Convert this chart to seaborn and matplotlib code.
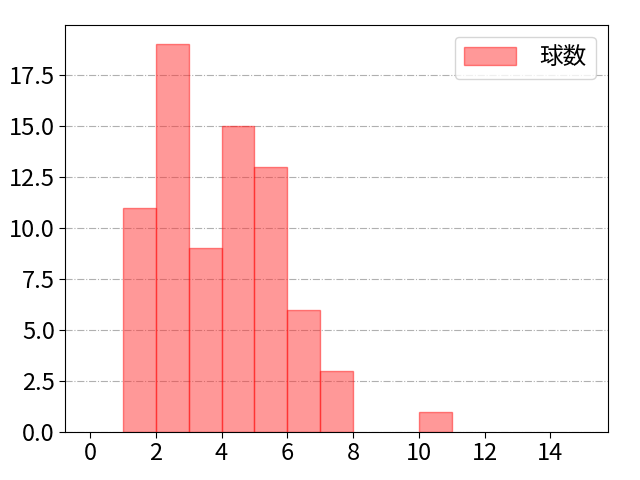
import matplotlib
matplotlib.use("Agg")
import matplotlib.pyplot as plt
import seaborn as sns
import pandas as pd

# pitch-count bins (left edges) and how many at-bats fell in each
bin_left = [0, 1, 2, 3, 4, 5, 6, 7, 8, 9, 10, 11, 12, 13, 14]
counts = [0, 11, 19, 9, 15, 13, 6, 3, 0, 0, 1, 0, 0, 0, 0]
label = "球数"

df = pd.DataFrame({"pitches": bin_left, "n": counts})

sns.set_style("white")
plt.rcParams['font.family'] = ['Noto Sans CJK JP', 'DejaVu Sans']
plt.rcParams['font.size'] = 17
plt.rcParams['text.color'] = 'black'
plt.rcParams['xtick.color'] = 'black'
plt.rcParams['ytick.color'] = 'black'

fig, ax = plt.subplots(figsize=(6.4, 4.8), dpi=100)
fig.subplots_adjust(left=0.102, right=0.95, top=0.948, bottom=0.1)
ax.grid(axis='y', color='#b0b0b0', linestyle='-.', linewidth=0.8)
ax.set_axisbelow(True)

sns.histplot(data=df, x="pitches", weights="n", bins=list(range(0, 16)), ax=ax,
             color='#ff3333', alpha=0.5, linewidth=1, label=label)

for p in ax.patches:
    p.set_edgecolor((1, 0, 0, 0.45))

ax.set_xlim(-0.75, 15.75)
ax.set_xticks(range(0, 15, 2))
ax.set_ylabel("")
ax.set_xlabel("")
ax.tick_params(axis='both', labelsize=17, length=4, direction='out', bottom=True, left=True)
for s in ax.spines.values():
    s.set_color('black')
ax.legend(loc='upper right', fontsize=17, handlelength=2.2, handleheight=0.85,
          handletextpad=1.0)

# hide empty bins after the legend has taken its handle
for p in ax.patches:
    if p.get_height() == 0:
        p.set_visible(False)

plt.savefig("out.png", dpi=100)
